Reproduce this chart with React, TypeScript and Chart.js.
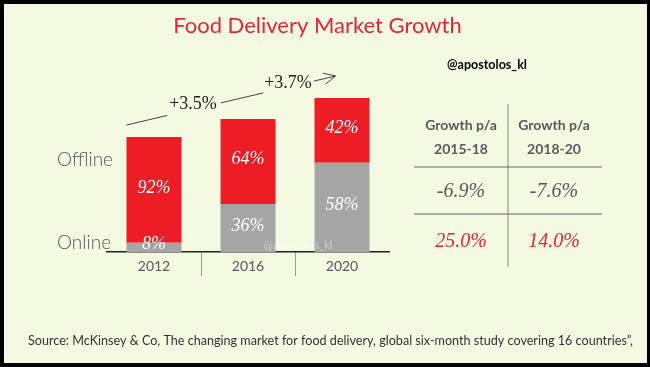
import React, { useEffect, useRef } from "react";
import { Chart, registerables } from "chart.js";

Chart.register(...registerables);

// ---- data ----
const years = ["2012", "2016", "2020"];
const marketSize = [115, 133, 154]; // relative market size index
const onlineShare = [8, 36, 58];
const offlineShare = [92, 64, 42];
const growthLabels = ["+3.5%", "+3.7%"];
const rowLabels = ["Offline", "Online"];
const tableHeader1 = ["Growth p/a", "Growth p/a"];
const tableHeader2 = ["2015-18", "2018-20"];
const offlineGrowth = ["-6.9%", "-7.6%"];
const onlineGrowth = ["25.0%", "14.0%"];
const titleText = "Food Delivery Market Growth";
const handle = "@apostolos_kl";
const sourceText =
  "Source: McKinsey & Co, The changing market for food delivery, global six-month study covering 16 countries\u201d,";

// ---- style ----
const W = 650;
const H = 367;
const BG = "#F4F9E1";
const RED = "#EE1C25";
const GRAY = "#A5A5A5";
const TITLE_RED = "#E0263A";
const TEXT_GRAY = "#595959";
const SANS = "Lato, 'Open Sans', sans-serif";
const SERIF = "'Liberation Serif', 'DejaVu Serif', serif";

const onlineValues = marketSize.map((m, i) => (m * onlineShare[i]) / 100);
const offlineValues = marketSize.map((m, i) => (m * offlineShare[i]) / 100);

const decorPlugin = {
  id: "decor",
  beforeDraw(chart: any) {
    const ctx = chart.ctx;
    ctx.save();
    ctx.fillStyle = "#000";
    ctx.fillRect(0, 0, W, H);
    ctx.fillStyle = BG;
    ctx.fillRect(4, 4, W - 7, H - 8);
    ctx.restore();
  },
  afterDraw(chart: any) {
    const ctx = chart.ctx;
    const area = chart.chartArea;
    ctx.save();
    ctx.textAlign = "center";
    ctx.textBaseline = "middle";

    // title
    ctx.fillStyle = TITLE_RED;
    ctx.font = `22px ${SANS}`;
    ctx.fillText(titleText, 317.5, 26);

    // handle top right
    ctx.fillStyle = "#000";
    ctx.font = `bold 12.5px ${SANS}`;
    ctx.fillText(handle, 487, 65);

    // row labels
    ctx.fillStyle = TEXT_GRAY;
    ctx.font = `300 19px ${SANS}`;
    ctx.textAlign = "left";
    ctx.fillText(rowLabels[0], 57, area.bottom - 92);
    ctx.fillText(rowLabels[1], 57, area.bottom - 9);

    // bar labels
    ctx.textAlign = "center";
    ctx.fillStyle = "#fff";
    ctx.font = `italic 18px ${SERIF}`;
    const shares = [onlineShare, offlineShare];
    [0, 1].forEach((di) => {
      const meta = chart.getDatasetMeta(di);
      meta.data.forEach((el: any, j: number) => {
        const top = Math.min(el.y, el.base);
        const bot = Math.max(el.y, el.base);
        let cy = (top + bot) / 2 - 2;
        cy = Math.min(cy, bot - 8);
        ctx.fillText(shares[di][j] + "%", el.x, cy);
      });
    });

    // watermark in plot
    ctx.fillStyle = "rgba(255,255,255,0.45)";
    ctx.font = `11px ${SANS}`;
    ctx.fillText(handle, 298, area.bottom - 7);

    // growth annotation
    const tops = chart.getDatasetMeta(1).data;
    const b0 = tops[0], b1 = tops[1], b2 = tops[2];
    const p0x = b0.x - b0.width / 2;
    const p0y = b0.y - 12;
    const p1x = b2.x - b2.width / 2 + 21;
    const p1y = b2.y - 22;
    const lineY = (x: number) => p0y + ((p1y - p0y) * (x - p0x)) / (p1x - p0x);
    ctx.font = `18px ${SERIF}`;
    ctx.fillStyle = "#222";
    const t1x = (b0.x + b1.x) / 2 - 8;
    const t2x = (b1.x + b2.x) / 2 - 7;
    const w1 = ctx.measureText(growthLabels[0]).width;
    const w2 = ctx.measureText(growthLabels[1]).width;
    ctx.fillText(growthLabels[0], t1x, lineY(t1x) - 5);
    ctx.fillText(growthLabels[1], t2x, lineY(t2x) - 4);
    ctx.strokeStyle = "#444";
    ctx.lineWidth = 1;
    const segs = [
      [p0x, t1x - w1 / 2 - 2],
      [t1x + w1 / 2 + 4, t2x - w2 / 2 - 1],
      [t2x + w2 / 2 + 2, p1x],
    ];
    ctx.beginPath();
    segs.forEach(([a, b]) => {
      ctx.moveTo(a, lineY(a));
      ctx.lineTo(b, lineY(b));
    });
    const ang = Math.atan2(p1y - p0y, p1x - p0x);
    const L = 13;
    [0.45, -0.45].forEach((d) => {
      ctx.moveTo(p1x, p1y);
      ctx.lineTo(p1x - L * Math.cos(ang + d), p1y - L * Math.sin(ang + d));
    });
    ctx.stroke();

    // table
    const colX = [461, 554];
    ctx.strokeStyle = "#999";
    ctx.lineWidth = 1.2;
    ctx.beginPath();
    ctx.moveTo(508, 104);
    ctx.lineTo(508, 267);
    ctx.stroke();
    ctx.strokeStyle = "#666";
    ctx.beginPath();
    ctx.moveTo(414, 167);
    ctx.lineTo(602, 167);
    ctx.moveTo(414, 214);
    ctx.lineTo(602, 214);
    ctx.stroke();
    ctx.fillStyle = TEXT_GRAY;
    ctx.font = `bold 14px ${SANS}`;
    colX.forEach((x, i) => {
      ctx.fillText(tableHeader1[i], x, 125);
      ctx.fillText(tableHeader2[i], x, 149);
    });
    ctx.font = `italic 20px ${SERIF}`;
    colX.forEach((x, i) => {
      ctx.fillStyle = TEXT_GRAY;
      ctx.fillText(offlineGrowth[i], x, 192);
      ctx.fillStyle = TITLE_RED;
      ctx.fillText(onlineGrowth[i], x, 242);
    });

    // source
    ctx.textAlign = "left";
    ctx.fillStyle = "#333";
    ctx.font = `12.6px ${SANS}`;
    ctx.fillText(sourceText, 28, 341);

    ctx.restore();
  },
};

export default function App() {
  const ref = useRef<HTMLCanvasElement>(null);
  useEffect(() => {
    if (!ref.current) return;
    const chart = new Chart(ref.current, {
      type: "bar",
      data: {
        labels: years,
        datasets: [
          { label: "Online", data: onlineValues, backgroundColor: GRAY },
          { label: "Offline", data: offlineValues, backgroundColor: RED },
        ],
      },
      options: {
        responsive: false,
        animation: false,
        devicePixelRatio: 1,
        layout: { padding: { left: 107, right: W - 389, top: 52, bottom: 85 } },
        plugins: { legend: { display: false }, tooltip: { enabled: false }, title: { display: false } },
        datasets: { bar: { categoryPercentage: 1, barPercentage: 0.585 } },
        scales: {
          x: {
            stacked: true,
            offset: true,
            afterFit: (s: any) => {
              s.height = 30;
            },
            border: { display: true, color: "#222", width: 1.5 },
            grid: {
              display: true,
              offset: true,
              drawOnChartArea: false,
              drawTicks: true,
              tickLength: 24,
              lineWidth: 1,
              color: (c: any) =>
                c.type === "tick" && c.index > 0 ? "#9a9a9a" : "rgba(0,0,0,0)",
            },
            ticks: { color: TEXT_GRAY, font: { family: SANS, size: 14 }, padding: -18 },
          },
          y: { stacked: true, display: false, min: 0, max: 200 },
        },
      },
      plugins: [decorPlugin],
    } as any);
    return () => chart.destroy();
  }, []);
  return (
    <div style={{ position: "fixed", left: 0, top: 0, width: W, height: H }}>
      <canvas ref={ref} width={W} height={H} style={{ display: "block" }} />
    </div>
  );
}
